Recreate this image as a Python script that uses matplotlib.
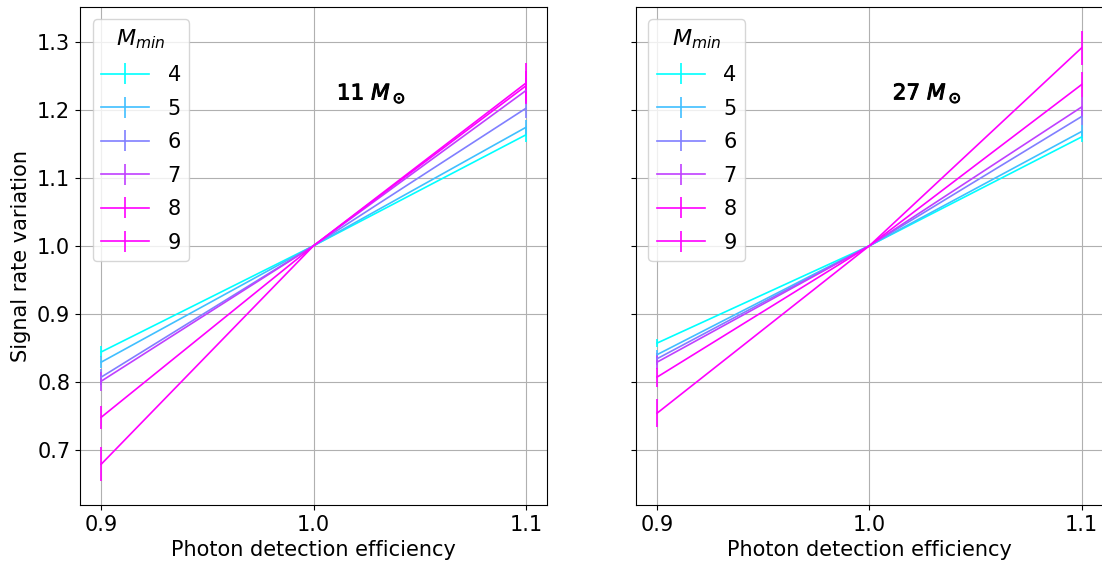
import matplotlib.pyplot as plt
import matplotlib.patheffects as pe
import numpy as np

pde = [0.9, 1.0, 1.1]
m_min = [4, 5, 6, 7, 8, 9]

# signal rate variation at PDE 0.9, 1.0, 1.1
rate_11 = [
    [0.844, 1.0, 1.163],
    [0.829, 1.0, 1.174],
    [0.807, 1.0, 1.202],
    [0.801, 1.0, 1.228],
    [0.748, 1.0, 1.235],
    [0.679, 1.0, 1.239],
]
err_11 = [
    [0.008, 0.0, 0.010],
    [0.009, 0.0, 0.011],
    [0.012, 0.0, 0.014],
    [0.014, 0.0, 0.018],
    [0.017, 0.0, 0.022],
    [0.025, 0.0, 0.030],
]
rate_27 = [
    [0.857, 1.0, 1.160],
    [0.840, 1.0, 1.168],
    [0.834, 1.0, 1.190],
    [0.829, 1.0, 1.204],
    [0.807, 1.0, 1.237],
    [0.754, 1.0, 1.291],
]
err_27 = [
    [0.006, 0.0, 0.008],
    [0.007, 0.0, 0.010],
    [0.009, 0.0, 0.012],
    [0.010, 0.0, 0.014],
    [0.014, 0.0, 0.018],
    [0.021, 0.0, 0.025],
]

plt.rcParams['font.size'] = 15

fig = plt.figure(figsize=(11.02, 5.64), dpi=100)
ax1 = fig.add_axes([0.0726, 0.1046, 0.4238, 0.883])
ax2 = fig.add_axes([0.577, 0.1046, 0.4238, 0.883], sharey=ax1)

cmap = plt.get_cmap('cool')
for ax, rates, errs, label in [(ax1, rate_11, err_11, '11 $M_\\odot$'),
                               (ax2, rate_27, err_27, '27 $M_\\odot$')]:
    for m, r, e in zip(m_min, rates, errs):
        c = cmap(min((m - 4) / 4, 1.0))
        ax.errorbar(pde, r, yerr=e, color=c, lw=1.2, label=str(m))
    ax.grid(True, color='#b0b0b0')
    ax.set_xticks([0.9, 1.0, 1.1])
    ax.set_xlabel('Photon detection efficiency')
    ax.text(1.011, 1.215, label, fontsize=15.5,
            path_effects=[pe.withStroke(linewidth=0.7, foreground='black')])
    ax.legend(title='$M_{min}$', loc='upper left', fontsize=15,
              title_fontsize=16, handlelength=2.3, handletextpad=0.9,
              labelspacing=0.65, borderaxespad=0.6)

ax1.set_ylim(0.619, 1.351)
ax1.set_ylabel('Signal rate variation')
plt.setp(ax2.get_yticklabels(), visible=False)

fig.savefig('out.png', dpi=100)
